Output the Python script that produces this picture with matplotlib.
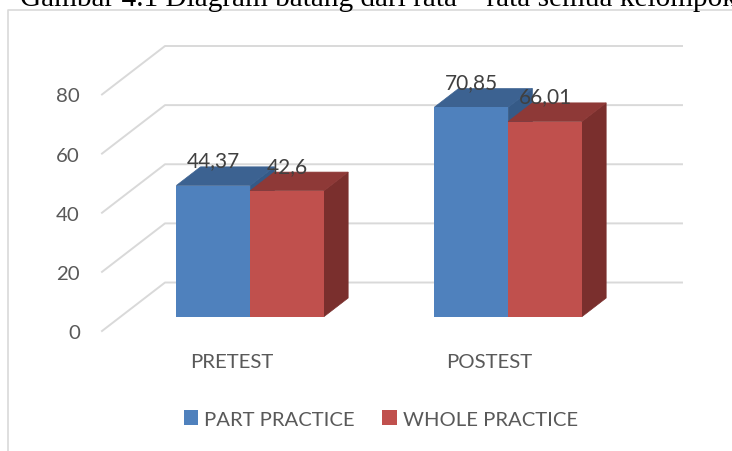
import matplotlib.pyplot as plt
from matplotlib.lines import Line2D

# data
kategori = ["PRETEST", "POSTEST"]
part_practice = [44.37, 70.85]
whole_practice = [42.6, 66.01]
y_ticks = [0, 20, 40, 60, 80]
judul = "Gambar 4.1 Diagram batang dari rata – rata semua kelompok"

plt.rcParams["font.family"] = ["Lato", "DejaVu Sans"]

W, H = 732, 452
fig = plt.figure(figsize=(W / 100, H / 100), dpi=100)

# axes = front plane of the fake 3d box, pixels
ax = fig.add_axes([102 / W, (H - 332) / H, 580 / W, 285 / H])
ax.set_xlim(-0.502, 1.746)
ax.set_ylim(0, 96.4)
for s in ax.spines.values():
    s.set_visible(False)

# depth of the box in data units
DX = 63 / 258
DY = 16.4
BAR_W = 0.286
D0, D1 = 0.295, 0.68


def proj(x, v, d):
    return x + d * DX, v + d * DY


# gridlines: diagonal on the left wall + line along the back
for t in y_ticks:
    x0, y0 = proj(ax.get_xlim()[0], t, 0)
    x1, y1 = proj(ax.get_xlim()[0], t, 1)
    ax.plot([x0, x1, ax.get_xlim()[1]], [y0, y1, y1], color="#d9d9d9", lw=1.4, zorder=1, clip_on=False)


def balok(x_kiri, nilai, warna, warna_atas, warna_sisi, z):
    kiri = x_kiri
    kanan = x_kiri + BAR_W
    # side
    sisi = [proj(kanan, 0, D0), proj(kanan, 0, D1), proj(kanan, nilai, D1), proj(kanan, nilai, D0)]
    ax.fill(*zip(*sisi), facecolor=warna_sisi, edgecolor=warna_sisi, lw=0.5, zorder=z)
    # top
    atas = [proj(kiri, nilai, D0), proj(kanan, nilai, D0), proj(kanan, nilai, D1), proj(kiri, nilai, D1)]
    ax.fill(*zip(*atas), facecolor=warna_atas, edgecolor=warna_atas, lw=0.5, zorder=z)
    # front
    xf, yf = proj(kiri, 0, D0)
    b = ax.bar(xf, nilai, BAR_W, bottom=yf, align="edge", color=warna, lw=0, zorder=z + 0.5)
    ax.annotate(
        f"{nilai:g}".replace(".", ","),
        (xf + BAR_W / 2, yf + nilai),
        xytext=(0, 18),
        textcoords="offset points",
        ha="center",
        va="center",
        fontsize=15,
        color="#404040",
        zorder=10,
    )
    return b


for i in range(len(kategori)):
    h1 = balok(i - BAR_W, part_practice[i], "#4f81bd", "#3c6291", "#355a87", 3)
    h2 = balok(i, whole_practice[i], "#c0504d", "#8e3937", "#7a2f2d", 4)

ax.set_xticks(range(len(kategori)), kategori)
ax.set_yticks(y_ticks)
ax.tick_params(axis="x", length=0, pad=16, labelsize=14.7, labelcolor="#595959")
ax.tick_params(axis="y", length=0, pad=16, labelsize=14.7, labelcolor="#595959")

fig.legend(
    [h1, h2],
    ["PART PRACTICE", "WHOLE PRACTICE"],
    loc="center",
    bbox_to_anchor=(381 / W, (H - 420) / H),
    ncol=2,
    frameon=False,
    fontsize=14.6,
    labelcolor="#595959",
    handlelength=0.7,
    handleheight=0.7,
    handletextpad=0.3,
    columnspacing=1.35,
)

# chart frame, only left and top are visible
fig.add_artist(Line2D([8 / W, 8 / W, 1], [0, (H - 11) / H, (H - 11) / H], color="#d9d9d9", lw=1.2))

fig.text(20 / W, (H - 6) / H, judul, family="Liberation Serif", fontsize=21.05, color="black", va="baseline")

fig.savefig("out.png", dpi=100)
